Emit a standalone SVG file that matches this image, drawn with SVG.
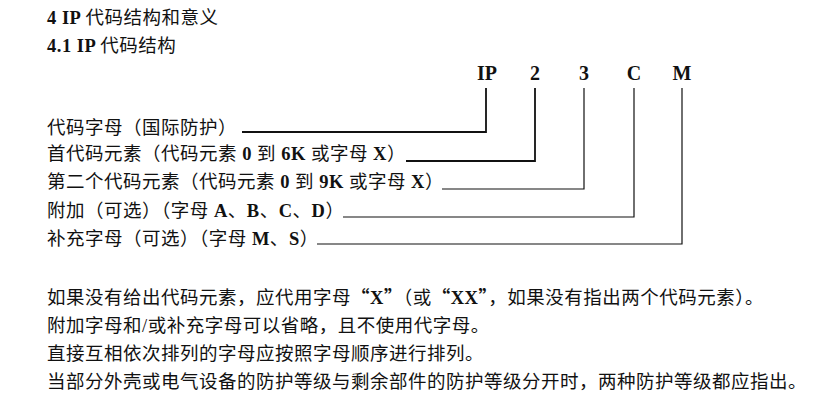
<svg xmlns="http://www.w3.org/2000/svg" width="838" height="400" viewBox="0 0 838 400">
<style>
  text { font-family: "Liberation Serif", "Noto Sans CJK SC", serif; font-size: 18.5px; letter-spacing: 0.5px; fill: #111; }
  .b { font-weight: bold; }
  .q { font-weight: bold; font-family: "Noto Sans CJK SC", sans-serif; }
  .code { font-weight: bold; font-size: 20px; letter-spacing: 0; text-anchor: middle; }
  .thick { stroke: #111; stroke-width: 1.8; fill: none; }
  .thin { stroke: #111; stroke-width: 1.2; fill: none; }
</style>
<rect width="838" height="400" fill="#fff"/>
<g id="title">
  <text x="47" y="24"><tspan class="b">4 IP </tspan>代码结构和意义</text>
  <text x="47" y="52"><tspan class="b">4.1 IP </tspan>代码结构</text>
</g>
<g id="codes">
  <text class="code" x="487" y="80">IP</text>
  <text class="code" x="535" y="80">2</text>
  <text class="code" x="584" y="80">3</text>
  <text class="code" x="634" y="80">C</text>
  <text class="code" x="682" y="80">M</text>
</g>
<g id="label-ip"><text x="47" y="134">代码字母（国际防护）</text></g>
<g id="label-first"><text x="47" y="160">首代码元素（代码元素 <tspan class="b">0</tspan> 到 <tspan class="b">6K</tspan> 或字母 <tspan class="b">X</tspan>）</text></g>
<g id="label-second"><text x="47" y="188">第二个代码元素（代码元素 <tspan class="b">0</tspan> 到 <tspan class="b">9K</tspan> 或字母 <tspan class="b">X</tspan>）</text></g>
<g id="label-add"><text x="47" y="217">附加（可选）（字母 <tspan class="b">A</tspan>、<tspan class="b">B</tspan>、<tspan class="b">C</tspan>、<tspan class="b">D</tspan>）</text></g>
<g id="label-sup"><text x="47" y="245">补充字母（可选）（字母 <tspan class="b">M</tspan>、<tspan class="b">S</tspan>）</text></g>
<g id="connectors">
  <polyline class="thick" points="242,132 486,132 486,88"/>
  <polyline class="thick" points="406,161 535,161 535,88"/>
  <polyline class="thin" points="442,189 584,189 584,88"/>
  <polyline class="thin" points="343,217 634,217 634,88"/>
  <polyline class="thin" points="317,244 682,244 682,88"/>
</g>
<g id="notes">
  <text x="47" y="304">如果没有给出代码元素，应代用字母<tspan class="q">“</tspan><tspan class="b">X</tspan><tspan class="q">”</tspan>（或<tspan class="q">“</tspan><tspan class="b">XX</tspan><tspan class="q">”</tspan>，如果没有指出两个代码元素）。</text>
  <text x="47" y="332">附加字母和/或补充字母可以省略，且不使用代字母。</text>
  <text x="47" y="360">直接互相依次排列的字母应按照字母顺序进行排列。</text>
  <text x="47" y="388">当部分外壳或电气设备的防护等级与剩余部件的防护等级分开时，两种防护等级都应指出。</text>
</g>
</svg>
